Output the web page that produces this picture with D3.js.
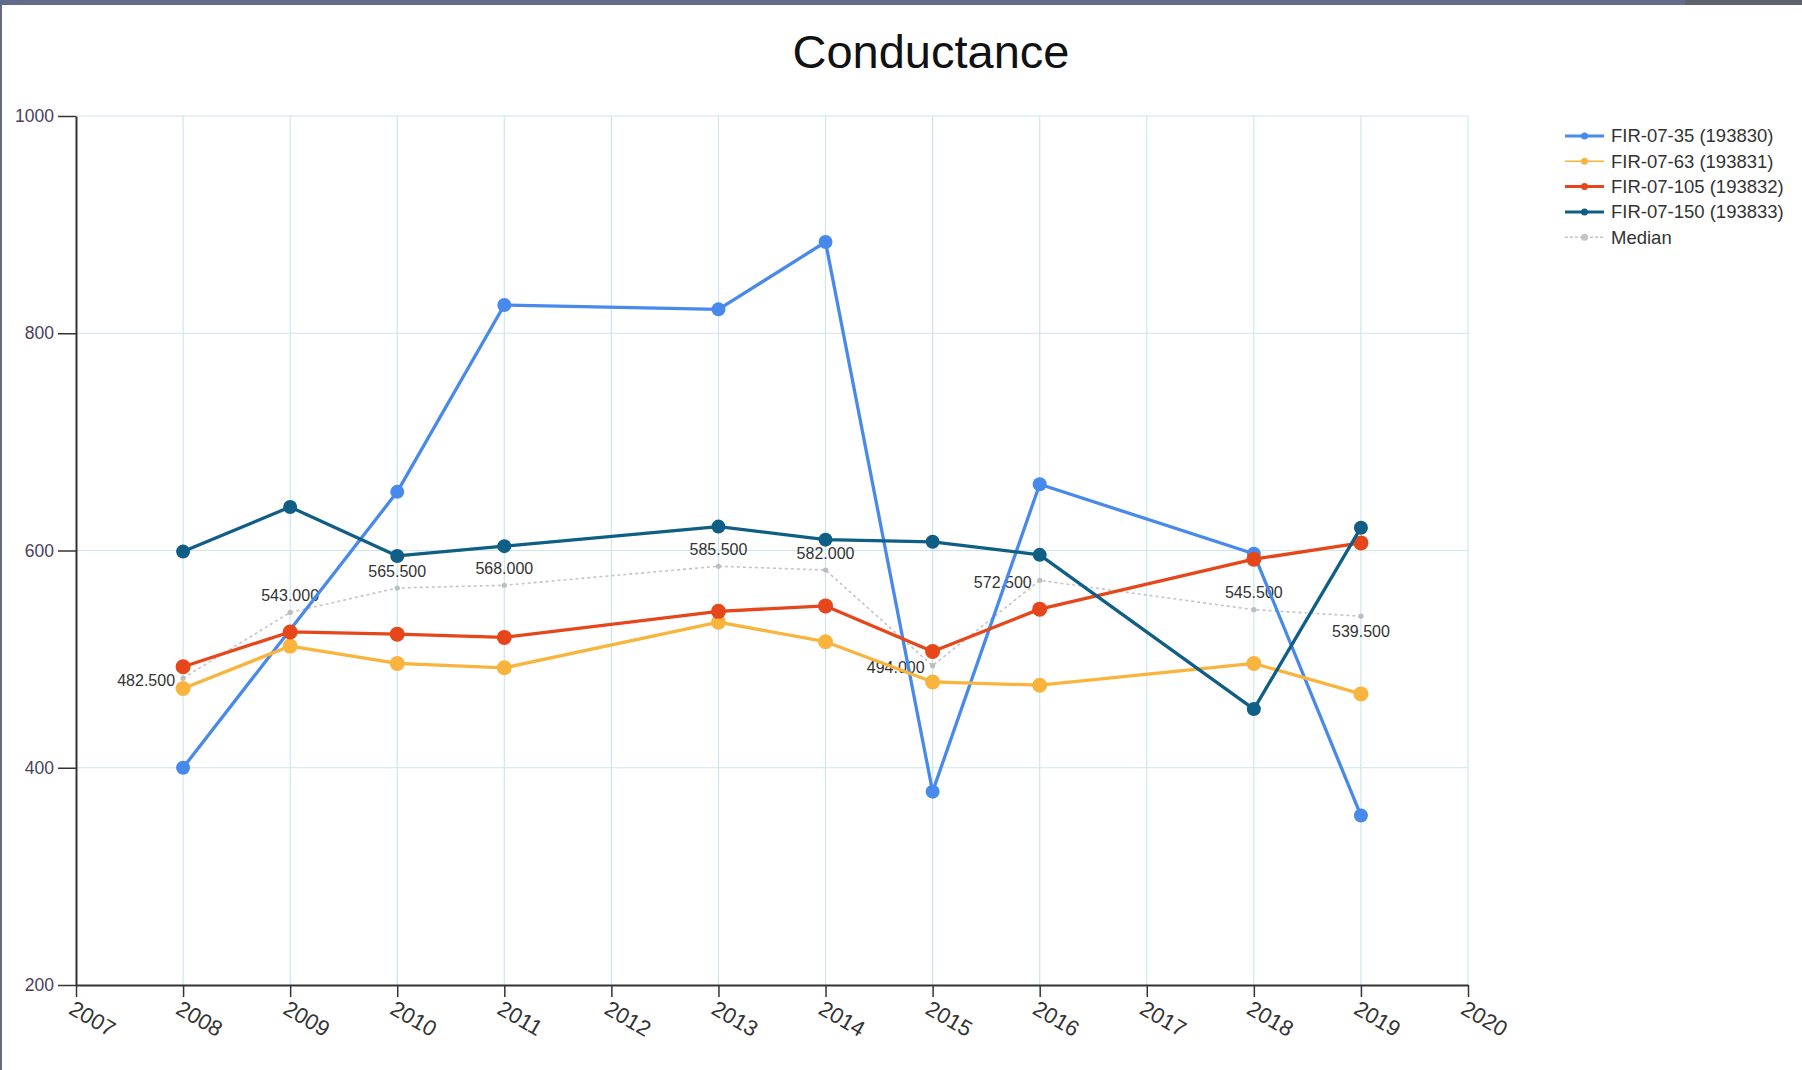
<!DOCTYPE html>
<html>
<head>
<meta charset="utf-8">
<script src="https://cdn.jsdelivr.net/npm/d3@7"></script>
<style>
  html, body { margin: 0; padding: 0; background: #fff; }
  svg { display: block; font-family: "Liberation Sans", Arial, sans-serif; }
</style>
</head>
<body>
<svg id="chart"></svg>
<script>
// Conductance per sampling year, four wells plus the median

const years = [2008, 2009, 2010, 2011, 2013, 2014, 2015, 2016, 2018, 2019];
const fir35 = [400, null, 654, 826, 822, 884, 378, 661, 597, 356];
const fir63 = [473, 512, 496, 492, 534, 516, 479, 476, 496, 468];
const fir105 = [493, 525, 523, 520, 544, 549, 507, 546, 592, 607];
const fir150 = [599, 640, 595, 604, 622, 610, 608, 596, 454, 621];
const median = [482.5, 543, 565.5, 568, 585.5, 582, 494, 572.5, 545.5, 539.5];

const seriesNames = ["FIR-07-35 (193830)", "FIR-07-63 (193831)", "FIR-07-105 (193832)", "FIR-07-150 (193833)", "Median"];
const xTicks = [2007, 2008, 2009, 2010, 2011, 2012, 2013, 2014, 2015, 2016, 2017, 2018, 2019, 2020];
const yTicks = [200, 400, 600, 800, 1000];

function drawConductance(svgSelector) {
    const W = 1802, H = 1070;
    const svg = d3.select(svgSelector).attr("width", W).attr("height", H);

    // 0. frame (the screenshot has a dark band on top and left)
    svg.append("rect").attr("width", W).attr("height", H).attr("fill", "#fff");
    svg.append("rect").attr("x", 0).attr("y", 0).attr("width", W).attr("height", 5).attr("fill", "#636b8a");
    svg.append("rect").attr("x", 1685).attr("y", 0).attr("width", W - 1685).attr("height", 5).attr("fill", "#5e626f");
    svg.append("rect").attr("x", 0).attr("y", 0).attr("width", 2).attr("height", H).attr("fill", "#636b8a");

    const x = d3.scaleLinear().domain([2007, 2020]).range([76, 1468]);
    const y = d3.scaleLinear().domain([200, 1000]).range([985, 116]);

    // 1. grid
    const grid = svg.append("g").attr("class", "grid")
        .attr("stroke", "#cde6ee").attr("stroke-width", 1.2);
    grid.selectAll("line.v")
      .data(xTicks.slice(1))
      .join("line")
        .attr("class", "v")
        .attr("x1", d => x(d)).attr("x2", d => x(d))
        .attr("y1", y(200)).attr("y2", y(1000));
    grid.selectAll("line.h")
      .data(yTicks.slice(1))
      .join("line")
        .attr("class", "h")
        .attr("x1", x(2007)).attr("x2", x(2020))
        .attr("y1", d => y(d)).attr("y2", d => y(d));

    // 2. axes
    const yAxis = svg.append("g")
        .attr("transform", `translate(${x(2007)},0)`)
        .call(d3.axisLeft(y).tickValues(yTicks).tickFormat(d3.format("d")).tickSize(18).tickPadding(4).tickSizeOuter(0));
    yAxis.selectAll("text")
        .style("font-size", "17.5px")
        .style("fill", "#4a3f5c")
        .style("font-family", "'Liberation Sans', Arial, sans-serif");

    const xAxis = svg.append("g")
        .attr("transform", `translate(0,${y(200)})`)
        .call(d3.axisBottom(x).tickValues(xTicks).tickFormat(d3.format("d")).tickSize(12).tickSizeOuter(0));
    xAxis.selectAll("text")
        .attr("text-anchor", "start")
        .attr("x", 0).attr("y", 0).attr("dy", null)
        .attr("transform", "translate(-9,28) rotate(30)")
        .style("font-size", "22px")
        .style("fill", "#333")
        .style("font-family", "'Liberation Sans', Arial, sans-serif");

    [yAxis, xAxis].forEach(a => {
        a.select(".domain").attr("stroke", "#333").attr("stroke-width", 2);
        a.selectAll(".tick line").attr("stroke", "#333").attr("stroke-width", 1.5);
    });

    // 3. median (dotted, with value labels)
    const medPts = years.map((yr, i) => ({ yr, v: median[i] }));
    const line = d3.line().x(d => x(d.yr)).y(d => y(d.v));

    svg.append("path")
        .datum(medPts)
        .attr("fill", "none")
        .attr("stroke", "#c4c4c4")
        .attr("stroke-width", 1.6)
        .attr("stroke-dasharray", "3,3")
        .attr("d", line);
    svg.append("g").selectAll("circle")
      .data(medPts)
      .join("circle")
        .attr("cx", d => x(d.yr)).attr("cy", d => y(d.v)).attr("r", 2.6)
        .attr("fill", "#bdbdbd");

    // labels are nudged where the lines would cover them
    const labelSide = { 2008: "left", 2015: "left", 2016: "left", 2019: "below" };
    svg.append("g").selectAll("text")
      .data(medPts)
      .join("text")
        .attr("x", d => labelSide[d.yr] === "left" ? x(d.yr) - 8 : x(d.yr))
        .attr("y", d => {
            const side = labelSide[d.yr];
            if (side === "left") return y(d.v) + 2;
            if (side === "below") return y(d.v) + 15;
            return y(d.v) - 17;
        })
        .attr("dy", ".35em")
        .attr("text-anchor", d => labelSide[d.yr] === "left" ? "end" : "middle")
        .style("font-size", "16px")
        .style("fill", "#333")
        .text(d => d3.format(".3f")(d.v));

    // 4. series
    const series = [
        { name: seriesNames[0], values: fir35, color: "#4889ec", r: 7, legendWidth: 3 },
        { name: seriesNames[1], values: fir63, color: "#f8b43c", r: 7.5, legendWidth: 1.5 },
        { name: seriesNames[2], values: fir105, color: "#e6461a", r: 7.5, legendWidth: 3 },
        { name: seriesNames[3], values: fir150, color: "#0e5e85", r: 7, legendWidth: 3 }
    ];

    series.forEach(s => {
        const pts = years.map((yr, i) => ({ yr, v: s.values[i] })).filter(d => d.v != null);
        const g = svg.append("g");
        g.append("path")
            .datum(pts)
            .attr("fill", "none")
            .attr("stroke", s.color)
            .attr("stroke-width", 3.3)
            .attr("stroke-linejoin", "round")
            .attr("d", line);
        g.selectAll("circle")
          .data(pts)
          .join("circle")
            .attr("cx", d => x(d.yr)).attr("cy", d => y(d.v)).attr("r", s.r)
            .attr("fill", s.color);
    });

    // 5. title
    svg.append("text")
        .attr("x", 931).attr("y", 68)
        .attr("text-anchor", "middle")
        .style("font-size", "47px")
        .style("fill", "#111")
        .text("Conductance");

    // 6. legend
    const legendItems = series.map(s => ({ name: s.name, color: s.color, w: s.legendWidth, dash: null }))
        .concat([{ name: seriesNames[4], color: "#c4c4c4", w: 1.5, dash: "3,2" }]);
    const legend = svg.append("g").attr("transform", "translate(1565,136)");
    const row = legend.selectAll("g")
      .data(legendItems)
      .join("g")
        .attr("transform", (d, i) => `translate(0,${i * 25.3})`);
    row.append("line")
        .attr("x1", 0).attr("x2", 39)
        .attr("stroke", d => d.color)
        .attr("stroke-width", d => d.w)
        .attr("stroke-dasharray", d => d.dash);
    row.append("circle")
        .attr("cx", 19.5).attr("r", 3.5)
        .attr("fill", d => d.color);
    row.append("text")
        .attr("x", 46).attr("dy", ".35em")
        .style("font-size", "18.5px")
        .style("fill", "#333")
        .text(d => d.name);
}

drawConductance("#chart");
</script>
</body>
</html>
